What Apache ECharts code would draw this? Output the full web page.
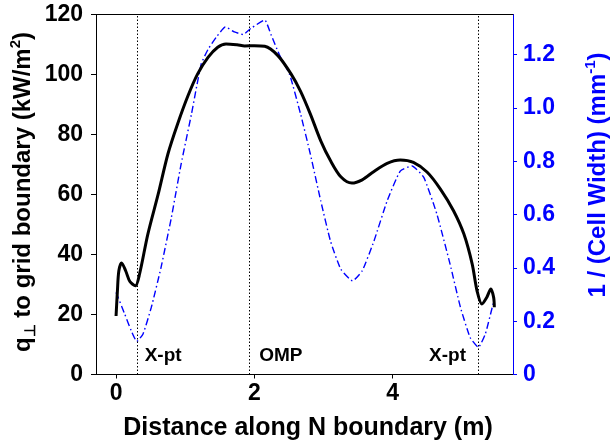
<!DOCTYPE html>
<html>
<head>
<meta charset="utf-8">
<script src="https://cdn.jsdelivr.net/npm/echarts@6/dist/echarts.min.js"></script>
<style>
  html, body { margin: 0; padding: 0; background: #fff; }
  #chart { width: 613px; height: 445px; }
</style>
</head>
<body>
<div id="chart"></div>
<script>
// black solid curve: q_perp (kW/m^2) vs distance (m)
var distBlack = [0.00, 0.02, 0.04, 0.08, 0.14, 0.20, 0.28, 0.34, 0.46, 0.61, 0.75, 0.89, 1.04, 1.18, 1.33, 1.47, 1.59, 1.75, 1.86, 2.00, 2.15, 2.34, 2.53, 2.67, 2.81, 2.96, 3.10, 3.25, 3.41, 3.56, 3.73, 3.92, 4.11, 4.30, 4.50, 4.69, 4.88, 5.03, 5.15, 5.22, 5.29, 5.36, 5.42, 5.46, 5.47];
var qPerp = [19.5, 28.0, 34.5, 37.2, 34.5, 31.0, 29.6, 33.5, 46.8, 60.2, 73.5, 83.5, 92.9, 100.2, 105.7, 109.1, 110.2, 109.9, 109.5, 109.6, 109.4, 106.3, 100.2, 94.3, 86.8, 77.9, 71.3, 65.9, 63.8, 64.9, 67.7, 70.4, 71.5, 70.7, 67.4, 61.8, 54.6, 46.8, 36.8, 27.9, 23.5, 25.7, 28.5, 25.7, 22.4];

// blue dash-dot curve: 1/(cell width) (mm^-1) vs distance (m)
var distBlue = [0.00, 0.125, 0.22, 0.30, 0.39, 0.51, 0.65, 0.80, 0.94, 1.09, 1.23, 1.33, 1.45, 1.58, 1.71, 1.84, 1.95, 2.15, 2.24, 2.36, 2.51, 2.67, 2.81, 2.96, 3.10, 3.25, 3.42, 3.56, 3.73, 3.92, 4.11, 4.28, 4.45, 4.64, 4.83, 4.98, 5.12, 5.24, 5.34, 5.44, 5.46];
var invWidth = [0.308, 0.227, 0.164, 0.124, 0.152, 0.252, 0.401, 0.589, 0.788, 0.976, 1.163, 1.219, 1.265, 1.303, 1.285, 1.275, 1.298, 1.329, 1.275, 1.200, 1.125, 0.975, 0.826, 0.651, 0.501, 0.395, 0.351, 0.389, 0.501, 0.651, 0.763, 0.782, 0.739, 0.601, 0.414, 0.252, 0.139, 0.102, 0.152, 0.252, 0.270];

// vertical dotted markers and their labels
var markerX = [0.303, 1.93, 5.24];
var markerNames = ['X-pt', 'OMP', 'X-pt'];
var labelX = [0.414, 2.07, 5.06];
var labelY = [6.4, 6.4, 6.4];

var xTicks = [0, 2, 4];
var leftTicks = [0, 20, 40, 60, 80, 100, 120];
var rightTicks = [0, 0.2, 0.4, 0.6, 0.8, 1.0, 1.2];

var FONT = "'Liberation Sans', Arial, Helvetica, sans-serif";
var BLUE = '#0000ff';

var blackData = distBlack.map(function (d, i) { return [d, qPerp[i]]; });
var blueData = distBlue.map(function (d, i) { return [d, invWidth[i]]; });
var labelData = labelX.map(function (d, i) { return [d, labelY[i], markerNames[i]]; });

var chart = echarts.init(document.getElementById('chart'));
var option = {
  animation: false,
  grid: { left: 96, right: 100, top: 14.5, bottom: 70.5 },
  xAxis: [
    {
      type: 'value', min: -0.29, max: 5.74,
      splitLine: { show: false },
      axisLine: { onZero: false, lineStyle: { color: '#000', width: 1 } },
      axisTick: { customValues: xTicks, length: 4, lineStyle: { color: '#000' } },
      axisLabel: { customValues: xTicks, margin: 8, color: '#000', fontSize: 23, fontWeight: 'bold', fontFamily: FONT }
    },
    {
      type: 'value', min: -0.29, max: 5.74, position: 'top',
      splitLine: { show: false },
      axisLine: { onZero: false, lineStyle: { color: '#000', width: 1 } },
      axisTick: { show: false },
      axisLabel: { show: false }
    }
  ],
  yAxis: [
    {
      type: 'value', min: 0, max: 120, position: 'left',
      splitLine: { show: false },
      axisLine: { show: true, onZero: false, lineStyle: { color: '#000', width: 1 } },
      axisTick: { show: true, customValues: leftTicks, length: 5, lineStyle: { color: '#000' } },
      axisLabel: { customValues: leftTicks, margin: 13, color: '#000', fontSize: 23, fontWeight: 'bold', fontFamily: FONT }
    },
    {
      type: 'value', min: 0, max: 1.35, position: 'right',
      splitLine: { show: false },
      axisLine: { show: true, onZero: false, lineStyle: { color: BLUE, width: 1 } },
      axisTick: { show: true, customValues: rightTicks, length: 4, lineStyle: { color: BLUE } },
      axisLabel: {
        customValues: rightTicks, margin: 10, color: BLUE, fontSize: 23, fontWeight: 'bold', fontFamily: FONT,
        formatter: function (v) { return v === 0 ? '0' : v.toFixed(1); }
      }
    }
  ],
  series: [
    {
      type: 'line', yAxisIndex: 1, data: blueData, showSymbol: false, smooth: 0.15, z: 3,
      lineStyle: { color: BLUE, width: 1.4, type: [7, 3, 1.5, 3] }
    },
    {
      type: 'line', yAxisIndex: 0, data: blackData, showSymbol: false, smooth: 0.3, z: 4,
      lineStyle: { color: '#000', width: 3 },
      markLine: {
        silent: true, symbol: 'none', animation: false,
        label: { show: false },
        lineStyle: { color: '#000', width: 1, type: [1.5, 2] },
        data: markerX.map(function (x) { return { xAxis: x }; })
      }
    },
    {
      type: 'scatter', yAxisIndex: 0, symbolSize: 0, silent: true, z: 5,
      itemStyle: { opacity: 1 },
      data: labelData,
      label: {
        show: true, position: 'inside', color: '#000', fontSize: 19, fontWeight: 'bold', fontFamily: FONT,
        formatter: function (p) { return p.data[2]; },
        align: 'left', verticalAlign: 'middle'
      },
      labelLayout: function (p) {
        return p.dataIndex === 2 ? { align: 'right' } : { align: 'left' };
      }
    }
  ],
  graphic: [
    {
      type: 'text', x: 23, y: 192, rotation: Math.PI / 2,
      style: {
        text: '{a|q}{s|⊥}{a| to grid boundary (kW/m}{p|2}{a|)}',
        align: 'center', verticalAlign: 'middle', fill: '#000',
        rich: {
          a: { fontSize: 24, fontWeight: 'bold', fontFamily: FONT, lineHeight: 30, fill: '#000' },
          s: { fontSize: 15, fontWeight: 'bold', fontFamily: FONT, lineHeight: 14, verticalAlign: 'bottom', fill: '#000' },
          p: { fontSize: 15, fontWeight: 'bold', fontFamily: FONT, lineHeight: 16, verticalAlign: 'top', fill: '#000' }
        }
      }
    },
    {
      type: 'text', x: 598, y: 175, rotation: Math.PI / 2,
      style: {
        text: '{a|1 / (Cell Width) (mm}{p|-1}{a|)}',
        align: 'center', verticalAlign: 'middle', fill: BLUE,
        rich: {
          a: { fontSize: 24, fontWeight: 'bold', fontFamily: FONT, lineHeight: 30, fill: BLUE },
          p: { fontSize: 15, fontWeight: 'bold', fontFamily: FONT, lineHeight: 16, verticalAlign: 'top', fill: BLUE }
        }
      }
    },
    {
      type: 'text', x: 308, y: 428,
      style: {
        text: 'Distance along N boundary (m)', align: 'center', verticalAlign: 'middle',
        fill: '#000', fontSize: 25, fontWeight: 'bold', fontFamily: FONT
      }
    }
  ]
};
chart.setOption(option);
</script>
</body>
</html>
